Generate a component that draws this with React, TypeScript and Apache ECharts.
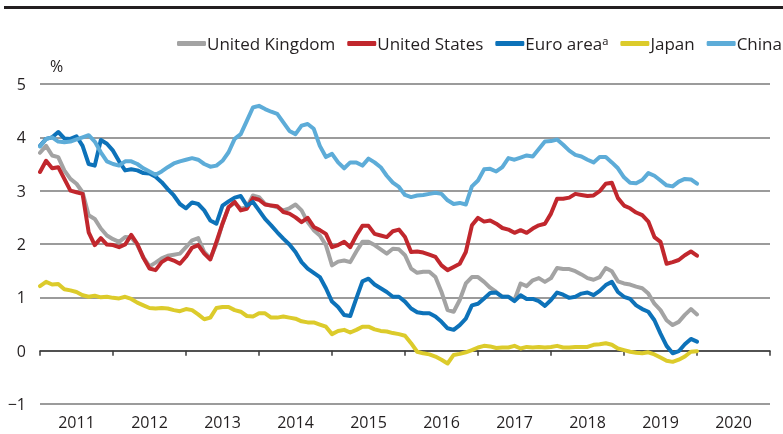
import React, { useEffect, useRef } from "react";
import * as echarts from "echarts";

const yearLabels = ["2011", "2012", "2013", "2014", "2015", "2016", "2017", "2018", "2019", "2020"];
const seriesNames = ["United Kingdom", "United States", "Euro areaᵃ", "Japan", "China"];
const seriesColors = ["#a3a3a3", "#c1272d", "#0d72b9", "#dccb2b", "#5dacd8"];

// Monthly values, January 2011 to January 2020 (%)
const unitedKingdom = [
  3.71, 3.84, 3.66, 3.63, 3.38, 3.22, 3.13, 2.97, 2.54, 2.47,
  2.29, 2.16, 2.09, 2.04, 2.13, 2.12, 1.98, 1.75, 1.58, 1.65,
  1.73, 1.78, 1.80, 1.82, 1.94, 2.07, 2.11, 1.85, 1.73, 2.00,
  2.38, 2.69, 2.77, 2.66, 2.69, 2.91, 2.88, 2.75, 2.72, 2.69,
  2.63, 2.67, 2.74, 2.63, 2.41, 2.26, 2.16, 1.98, 1.60, 1.67,
  1.69, 1.66, 1.86, 2.04, 2.04, 1.98, 1.90, 1.82, 1.91, 1.90,
  1.79, 1.54, 1.46, 1.48, 1.48, 1.38, 1.10, 0.76, 0.73, 0.95,
  1.26, 1.38, 1.38, 1.29, 1.18, 1.10, 1.01, 1.01, 0.95, 1.26,
  1.21, 1.32, 1.36, 1.29, 1.36, 1.55, 1.53, 1.53, 1.49, 1.43,
  1.36, 1.33, 1.38, 1.55, 1.49, 1.30, 1.26, 1.24, 1.20, 1.17,
  1.07, 0.88, 0.76, 0.57, 0.48, 0.54, 0.67, 0.78, 0.68,
];
const unitedStates = [
  3.35, 3.56, 3.42, 3.44, 3.22, 3.00, 2.97, 2.94, 2.22, 1.98,
  2.11, 1.99, 1.98, 1.94, 1.99, 2.17, 2.00, 1.74, 1.54, 1.51,
  1.66, 1.73, 1.69, 1.63, 1.76, 1.93, 1.98, 1.82, 1.71, 2.04,
  2.38, 2.69, 2.79, 2.63, 2.66, 2.86, 2.83, 2.74, 2.72, 2.71,
  2.60, 2.57, 2.50, 2.41, 2.49, 2.32, 2.26, 2.19, 1.94, 1.98,
  2.04, 1.94, 2.16, 2.34, 2.34, 2.19, 2.16, 2.13, 2.24, 2.27,
  2.13, 1.85, 1.86, 1.84, 1.80, 1.76, 1.60, 1.51, 1.57, 1.63,
  1.85, 2.35, 2.49, 2.42, 2.44, 2.38, 2.30, 2.27, 2.21, 2.26,
  2.21, 2.29, 2.35, 2.38, 2.57, 2.85, 2.85, 2.87, 2.94, 2.92,
  2.90, 2.91, 2.99, 3.13, 3.15, 2.86, 2.72, 2.67, 2.59, 2.54,
  2.42, 2.13, 2.04, 1.63, 1.66, 1.70, 1.79, 1.86, 1.78,
];
const euroArea = [
  3.84, 3.97, 4.00, 4.10, 3.98, 3.97, 4.02, 3.84, 3.50, 3.47,
  3.95, 3.88, 3.75, 3.55, 3.38, 3.40, 3.38, 3.33, 3.32, 3.26,
  3.16, 3.03, 2.91, 2.75, 2.67, 2.78, 2.75, 2.63, 2.44, 2.38,
  2.72, 2.80, 2.87, 2.90, 2.72, 2.79, 2.63, 2.47, 2.35, 2.22,
  2.10, 1.99, 1.85, 1.66, 1.54, 1.46, 1.38, 1.17, 0.92, 0.82,
  0.67, 0.65, 0.98, 1.30, 1.35, 1.24, 1.17, 1.10, 1.01, 1.01,
  0.92, 0.79, 0.72, 0.70, 0.70, 0.64, 0.54, 0.42, 0.39, 0.48,
  0.60, 0.85, 0.88, 0.98, 1.08, 1.09, 1.01, 1.01, 0.93, 1.04,
  0.97, 0.97, 0.93, 0.84, 0.95, 1.09, 1.05, 0.99, 1.01, 1.07,
  1.09, 1.04, 1.12, 1.23, 1.29, 1.10, 1.01, 0.97, 0.85, 0.78,
  0.73, 0.57, 0.32, 0.09, -0.05, -0.01, 0.12, 0.22, 0.17,
];
const japan = [
  1.21, 1.29, 1.24, 1.25, 1.15, 1.13, 1.10, 1.04, 1.01, 1.03,
  1.00, 1.01, 0.99, 0.98, 1.01, 0.97, 0.90, 0.85, 0.80, 0.79,
  0.80, 0.79, 0.76, 0.74, 0.78, 0.76, 0.68, 0.59, 0.62, 0.80,
  0.82, 0.82, 0.76, 0.73, 0.65, 0.64, 0.70, 0.70, 0.62, 0.62,
  0.64, 0.62, 0.60, 0.55, 0.53, 0.53, 0.49, 0.45, 0.31, 0.37,
  0.39, 0.34, 0.39, 0.45, 0.45, 0.40, 0.37, 0.36, 0.33, 0.31,
  0.28, 0.14, -0.02, -0.05, -0.07, -0.11, -0.17, -0.24, -0.08, -0.06,
  -0.03, 0.01, 0.06, 0.09, 0.08, 0.05, 0.06, 0.06, 0.09, 0.04,
  0.07, 0.06, 0.07, 0.06, 0.07, 0.09, 0.06, 0.06, 0.07, 0.07,
  0.07, 0.11, 0.12, 0.14, 0.11, 0.04, 0.01, -0.02, -0.04, -0.05,
  -0.03, -0.07, -0.13, -0.19, -0.21, -0.17, -0.11, -0.02, -0.01,
];
const china = [
  3.83, 3.97, 4.00, 3.92, 3.91, 3.92, 3.96, 4.00, 4.04, 3.92,
  3.72, 3.55, 3.50, 3.47, 3.55, 3.55, 3.50, 3.42, 3.36, 3.30,
  3.36, 3.44, 3.51, 3.55, 3.58, 3.61, 3.58, 3.50, 3.45, 3.47,
  3.56, 3.72, 3.97, 4.06, 4.31, 4.56, 4.59, 4.53, 4.48, 4.44,
  4.28, 4.12, 4.06, 4.22, 4.25, 4.16, 3.84, 3.63, 3.69, 3.53,
  3.42, 3.53, 3.53, 3.47, 3.60, 3.53, 3.44, 3.28, 3.15, 3.07,
  2.92, 2.88, 2.91, 2.92, 2.94, 2.96, 2.94, 2.82, 2.75, 2.77,
  2.74, 3.08, 3.19, 3.40, 3.41, 3.36, 3.44, 3.61, 3.58, 3.62,
  3.66, 3.64, 3.78, 3.92, 3.93, 3.96, 3.86, 3.75, 3.67, 3.64,
  3.58, 3.53, 3.63, 3.63, 3.53, 3.42, 3.25, 3.15, 3.14, 3.20,
  3.33, 3.28, 3.19, 3.10, 3.08, 3.17, 3.22, 3.21, 3.13,
];
const allSeries = [unitedKingdom, unitedStates, euroArea, japan, china];

const FONT = "'Open Sans', 'Noto Sans', sans-serif";
const TEXT = "#231f20";

export default function App() {
  const ref = useRef<HTMLDivElement>(null);
  useEffect(() => {
    if (!ref.current) return;
    const chart = echarts.init(ref.current, null, { renderer: "svg" });
    const monthsSpan = yearLabels.length * 12;
    chart.setOption({
      animation: false,
      textStyle: { fontFamily: FONT, color: TEXT },
      grid: { left: 40, right: 13, top: 84, bottom: 30, containLabel: false },
      legend: {
        left: 177,
        top: 35,
        padding: 0,
        itemGap: 12,
        itemWidth: 29,
        itemHeight: 5,
        icon: "roundRect",
        textStyle: { fontFamily: FONT, fontSize: 17, color: TEXT, padding: [0, 0, 0, -4] },
        data: seriesNames,
      },
      xAxis: [
        {
          type: "value",
          min: 0,
          max: monthsSpan,
          interval: 12,
          position: "bottom",
          axisLine: { show: true, lineStyle: { color: "#3a3a3a", width: 1.5 } },
          axisTick: { show: true, length: 5, lineStyle: { color: "#3a3a3a", width: 1.5 } },
          axisLabel: { show: false },
          splitLine: { show: false },
        },
        {
          type: "category",
          data: yearLabels,
          boundaryGap: true,
          position: "bottom",
          axisLine: { show: false },
          axisTick: { show: false },
          axisLabel: { fontSize: 16, color: TEXT, fontFamily: FONT, margin: 10 },
          splitLine: { show: false },
        },
      ],
      yAxis: {
        type: "value",
        min: -1,
        max: 5,
        interval: 1,
        axisLine: { show: false },
        axisTick: { show: false },
        axisLabel: {
          fontSize: 16,
          color: TEXT,
          fontFamily: FONT,
          margin: 14,
          formatter: (v: number) => (v < 0 ? "\u2212" + Math.abs(v) : String(v)),
        },
        splitLine: { show: true, lineStyle: { color: "#7a7a7a", width: 1.5 } },
      },
      graphic: [
        { type: "rect", left: 4, top: 6, shape: { width: 779, height: 3 }, style: { fill: "#231f20" } },
        {
          type: "text",
          left: 50,
          top: 58,
          style: { text: "%", fontSize: 16, fontFamily: FONT, fill: TEXT },
        },
      ],
      series: allSeries.map((arr, k) => ({
        name: seriesNames[k],
        type: "line",
        xAxisIndex: 0,
        data: arr.map((v, i) => [i, v]),
        showSymbol: false,
        symbol: "none",
        color: seriesColors[k],
        lineStyle: { width: 4, color: seriesColors[k], cap: "round", join: "round" },
        z: 2 + k,
      })),
    });
    return () => chart.dispose();
  }, []);
  return (
    <div
      ref={ref}
      style={{ position: "fixed", left: 0, top: 0, width: 783, height: 434 }}
    />
  );
}
